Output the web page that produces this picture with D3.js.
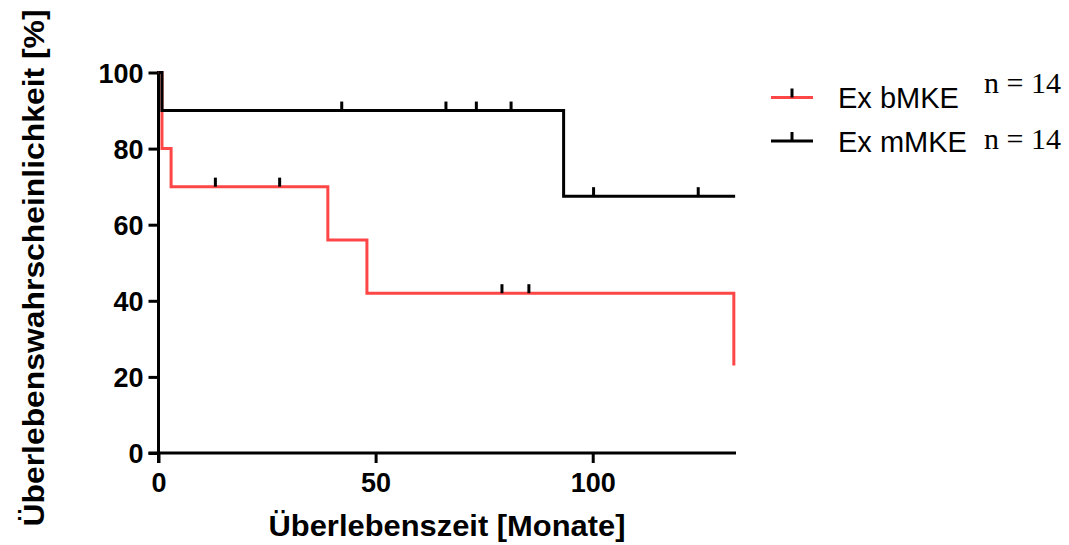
<!DOCTYPE html>
<html>
<head>
<meta charset="utf-8">
<script src="https://cdn.jsdelivr.net/npm/d3@7"></script>
<style>
  html, body { margin: 0; padding: 0; background: #fff; }
  svg { display: block; }
</style>
</head>
<body>
<svg id="chart" width="1069" height="545"></svg>
<script>
// Kaplan–Meier survival steps: [month, survival %]
const bmkeSteps = [[0, 100], [0.8, 80], [2.9, 70], [39, 56], [48, 42], [132.5, 23]];
const bmkeEnd = 132.5;
const bmkeCensored = [[13.1, 70], [27.9, 70], [79.1, 42], [85.3, 42]];

const mmkeSteps = [[0, 100], [0.8, 90], [93.3, 67.5]];
const mmkeEnd = 132.8;
const mmkeCensored = [[42.2, 90], [66.2, 90], [73.2, 90], [81.2, 90], [100.2, 67.5], [124.3, 67.5]];

const xTicks = [0, 50, 100];
const yTicks = [0, 20, 40, 60, 80, 100];

const seriesNames = ["Ex bMKE", "Ex mMKE"];
const seriesN = ["n = 14", "n = 14"];
const seriesColors = ["#ff4646", "#000000"];

const svg = d3.select("#chart");

const x = d3.scaleLinear().domain([0, 133]).range([158.5, 736]);
const y = d3.scaleLinear().domain([0, 100]).range([453, 72.5]);

const sans = "Arial, 'Liberation Sans', Helvetica, sans-serif";
const serif = "'Times New Roman', 'Liberation Serif', Times, serif";

// Axes
const yAxis = d3.axisLeft(y).tickValues(yTicks).tickSize(10).tickPadding(5);
const xAxis = d3.axisBottom(x).tickValues(xTicks).tickSize(10).tickPadding(6);

const gy = svg.append("g").attr("transform", `translate(${x(0)},0)`).call(yAxis);
const gx = svg.append("g").attr("transform", `translate(0,${y(0)})`).call(xAxis);

[gy, gx].forEach(g => {
  g.select(".domain").remove();
  g.selectAll(".tick line").attr("stroke", "#000").attr("stroke-width", 3);
  g.selectAll(".tick text")
    .attr("fill", "#000")
    .style("font-family", sans)
    .style("font-weight", "bold")
    .style("font-size", "27px");
});
gy.selectAll(".tick text").attr("dy", "0.36em");
gx.selectAll(".tick text").attr("dy", "0.84em");

// Axis lines (y runs slightly below zero, crossing the x axis)
svg.append("line")
  .attr("x1", x(0)).attr("x2", x(0))
  .attr("y1", y(100) - 1.5).attr("y2", y(0) + 10)
  .attr("stroke", "#000").attr("stroke-width", 3);
svg.append("line")
  .attr("x1", x(0) - 10).attr("x2", x(133))
  .attr("y1", y(0)).attr("y2", y(0))
  .attr("stroke", "#000").attr("stroke-width", 3);

// Step curve builder
function stepPath(steps, end) {
  const pts = steps.map(d => [d[0], d[1]]);
  pts.push([end, steps[steps.length - 1][1]]);
  return d3.line().x(d => x(d[0])).y(d => y(d[1])).curve(d3.curveStepAfter)(pts);
}

function drawSeries(steps, end, censored, color) {
  svg.append("path")
    .attr("d", stepPath(steps, end))
    .attr("fill", "none")
    .attr("stroke", color)
    .attr("stroke-width", 3)
    .attr("stroke-linejoin", "miter");
  svg.append("g").selectAll("line")
    .data(censored)
    .join("line")
    .attr("x1", d => x(d[0])).attr("x2", d => x(d[0]))
    .attr("y1", d => y(d[1]) - 9).attr("y2", d => y(d[1]))
    .attr("stroke", "#000")
    .attr("stroke-width", 3);
}

drawSeries(bmkeSteps, bmkeEnd, bmkeCensored, seriesColors[0]);
drawSeries(mmkeSteps, mmkeEnd, mmkeCensored, seriesColors[1]);

// Axis titles
svg.append("text")
  .attr("x", 447).attr("y", 536)
  .attr("text-anchor", "middle")
  .attr("textLength", 357)
  .attr("lengthAdjust", "spacingAndGlyphs")
  .style("font-family", sans)
  .style("font-weight", "bold")
  .style("font-size", "30px")
  .text("Überlebenszeit [Monate]");

svg.append("text")
  .attr("transform", "translate(44,268) rotate(-90)")
  .attr("text-anchor", "middle")
  .attr("textLength", 517)
  .attr("lengthAdjust", "spacingAndGlyphs")
  .style("font-family", sans)
  .style("font-weight", "bold")
  .style("font-size", "30px")
  .text("Überlebenswahrscheinlichkeit [%]");

// Legend
const legendRows = [
  { name: seriesNames[0], n: seriesN[0], color: seriesColors[0], ly: 97.5, ty: 108, ny: 93 },
  { name: seriesNames[1], n: seriesN[1], color: seriesColors[1], ly: 141, ty: 152, ny: 149 }
];
const lg = svg.append("g");
legendRows.forEach(r => {
  lg.append("line")
    .attr("x1", 771).attr("x2", 813)
    .attr("y1", r.ly).attr("y2", r.ly)
    .attr("stroke", r.color).attr("stroke-width", 3);
  lg.append("line")
    .attr("x1", 792).attr("x2", 792)
    .attr("y1", r.ly - 9).attr("y2", r.ly)
    .attr("stroke", "#000").attr("stroke-width", 3);
  lg.append("text")
    .attr("x", 838).attr("y", r.ty)
    .style("font-family", sans)
    .style("font-size", "29px")
    .text(r.name);
  lg.append("text")
    .attr("x", 984).attr("y", r.ny)
    .style("font-family", serif)
    .style("font-size", "30px")
    .text(r.n);
});
</script>
</body>
</html>
